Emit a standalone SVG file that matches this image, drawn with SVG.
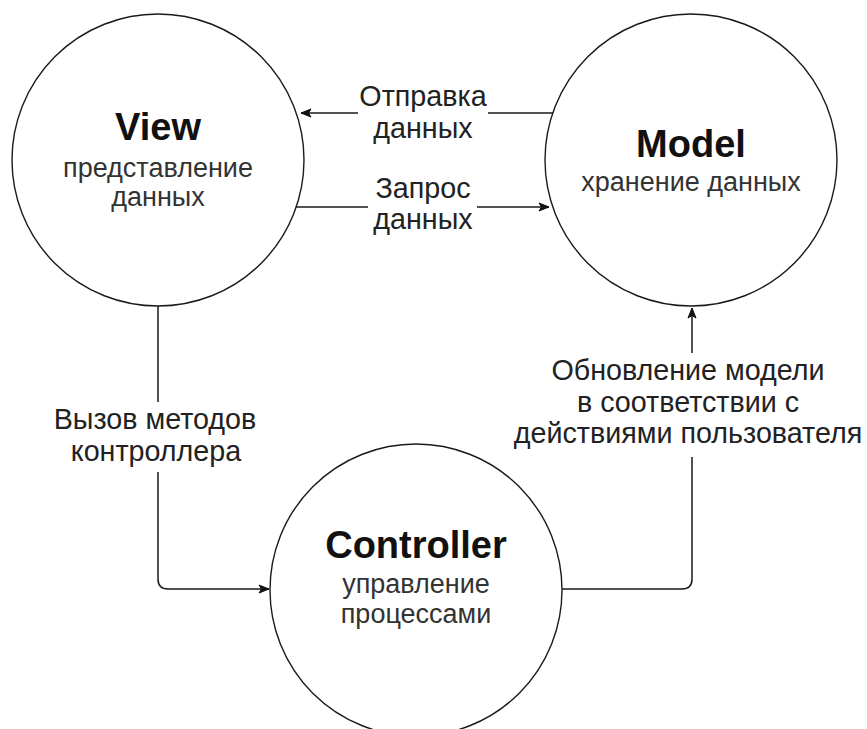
<svg xmlns="http://www.w3.org/2000/svg" width="867" height="729" viewBox="0 0 867 729">
  <defs>
    <style>
      .node circle { fill: #ffffff; stroke: #1a1a1a; stroke-width: 1.4; }
      .title { font-family: "Liberation Sans", Arial, sans-serif; font-weight: bold; font-size: 38px; fill: #111; text-anchor: middle; }
      .sub { font-family: "Liberation Sans", Arial, sans-serif; font-size: 27px; fill: #333; text-anchor: middle; }
      .edge { fill: none; stroke: #1a1a1a; stroke-width: 1.5; }
      .lbl { font-family: "Liberation Sans", Arial, sans-serif; font-size: 28.7px; fill: #222; text-anchor: middle; }
    </style>
    <marker id="arrow" markerUnits="userSpaceOnUse" markerWidth="12" markerHeight="10" refX="11" refY="5" orient="auto">
      <path d="M1,1 L11,5 L1,9 L3.5,5 Z" fill="#111" stroke="#111" stroke-width="1"/>
    </marker>
  </defs>
  <rect width="867" height="729" fill="#ffffff"/>

  <g id="connectors">
    <g id="edge-model-view">
      <path class="edge" d="M553,113 L488,113 M358,113 L301,113" marker-end="url(#arrow)"/>
      <text class="lbl" x="423" y="106">Отправка</text>
      <text class="lbl" x="423" y="138">данных</text>
    </g>
    <g id="edge-view-model">
      <path class="edge" d="M296,207 L368,207 M477,207 L549,207" marker-end="url(#arrow)"/>
      <text class="lbl" x="423" y="198">Запрос</text>
      <text class="lbl" x="423" y="229">данных</text>
    </g>
    <g id="edge-view-controller">
      <path class="edge" d="M158,306 L158,402 M158,472 L158,579 Q158,589 168,589 L269,589" marker-end="url(#arrow)"/>
      <text class="lbl" x="155" y="429">Вызов методов</text>
      <text class="lbl" x="156" y="461">контроллера</text>
    </g>
    <g id="edge-controller-model">
      <path class="edge" d="M562,589 L682,589 Q692,589 692,579 L692,457 M692,353 L692,308" marker-end="url(#arrow)"/>
      <text class="lbl" x="688" y="380">Обновление модели</text>
      <text class="lbl" x="688" y="412">в соответствии с</text>
      <text class="lbl" x="688" y="443">действиями пользователя</text>
    </g>
  </g>

  <g id="node-view" class="node">
    <circle cx="158" cy="160" r="146"/>
    <text class="title" x="158" y="140">View</text>
    <text class="sub" x="158" y="177">представление</text>
    <text class="sub" x="158" y="206">данных</text>
  </g>

  <g id="node-model" class="node">
    <circle cx="691" cy="160" r="146"/>
    <text class="title" x="691" y="157">Model</text>
    <text class="sub" x="691" y="191">хранение данных</text>
  </g>

  <g id="node-controller" class="node">
    <circle cx="416" cy="590" r="146"/>
    <text class="title" x="416" y="558">Controller</text>
    <text class="sub" x="416" y="593">управление</text>
    <text class="sub" x="416" y="623">процессами</text>
  </g>
</svg>
